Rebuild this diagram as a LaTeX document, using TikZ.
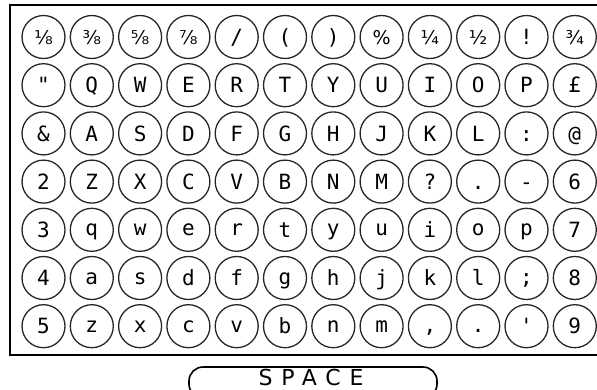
\documentclass[tikz,border=0pt]{standalone}
\usepackage{fontspec}
\newfontfamily\keyfont{DejaVu Sans Mono}
\newfontfamily\fracfont{DejaVu Sans}
\newfontfamily\barfont[LetterSpace=40]{DejaVu Sans}
\tikzset{
  keycap/.style={circle, draw=black!85, line width=1.3pt, minimum size=43pt, inner sep=0pt,
    font=\keyfont\fontsize{21}{21}\selectfont, text height=15.3pt, text depth=0pt},
  lowcap/.style={keycap, text height=12pt},
  fraccap/.style={keycap, font=\fracfont\fontsize{19}{19}\selectfont},
  frame/.style={draw=black, line width=2pt},
  spacebar/.style={draw=black, line width=1.6pt, rounded corners=14pt},
}
\newcommand\kp[4][keycap]{\node[#1] (k#2-#3) at ({43.5+48.3*(#3-1)},{-37-48.2*(#2-1)}) {#4};}
\begin{document}
\begin{tikzpicture}[x=1pt,y=1pt]
\useasboundingbox (0,0) rectangle (597,-389);
\clip (0,0) rectangle (597,-389);
\draw[frame] (10,-5) rectangle (610,-355);
% row 1
\kp[fraccap]{1}{1}{⅛}\kp[fraccap]{1}{2}{⅜}\kp[fraccap]{1}{3}{⅝}\kp[fraccap]{1}{4}{⅞}
\kp{1}{5}{/}\kp{1}{6}{(}\kp{1}{7}{)}\kp[fraccap]{1}{8}{\%}
\kp[fraccap]{1}{9}{¼}\kp[fraccap]{1}{10}{½}\kp{1}{11}{!}\kp[fraccap]{1}{12}{¾}
% row 2
\kp{2}{1}{\symbol{34}}\kp{2}{2}{Q}\kp{2}{3}{W}\kp{2}{4}{E}\kp{2}{5}{R}\kp{2}{6}{T}
\kp{2}{7}{Y}\kp{2}{8}{U}\kp{2}{9}{I}\kp{2}{10}{O}\kp{2}{11}{P}\kp{2}{12}{£}
% row 3
\kp{3}{1}{\&}\kp{3}{2}{A}\kp{3}{3}{S}\kp{3}{4}{D}\kp{3}{5}{F}\kp{3}{6}{G}
\kp{3}{7}{H}\kp{3}{8}{J}\kp{3}{9}{K}\kp{3}{10}{L}\kp{3}{11}{:}\kp{3}{12}{@}
% row 4
\kp{4}{1}{2}\kp{4}{2}{Z}\kp{4}{3}{X}\kp{4}{4}{C}\kp{4}{5}{V}\kp{4}{6}{B}
\kp{4}{7}{N}\kp{4}{8}{M}\kp{4}{9}{?}\kp{4}{10}{.}\kp{4}{11}{-}\kp{4}{12}{6}
% row 5
\kp{5}{1}{3}\kp[lowcap]{5}{2}{q}\kp[lowcap]{5}{3}{w}\kp[lowcap]{5}{4}{e}\kp[lowcap]{5}{5}{r}\kp{5}{6}{t}
\kp[lowcap]{5}{7}{y}\kp[lowcap]{5}{8}{u}\kp{5}{9}{i}\kp[lowcap]{5}{10}{o}\kp[lowcap]{5}{11}{p}\kp{5}{12}{7}
% row 6
\kp{6}{1}{4}\kp[lowcap]{6}{2}{a}\kp[lowcap]{6}{3}{s}\kp{6}{4}{d}\kp{6}{5}{f}\kp[lowcap]{6}{6}{g}
\kp{6}{7}{h}\kp{6}{8}{j}\kp{6}{9}{k}\kp{6}{10}{l}\kp[lowcap]{6}{11}{;}\kp{6}{12}{8}
% row 7
\kp{7}{1}{5}\kp[lowcap]{7}{2}{z}\kp[lowcap]{7}{3}{x}\kp[lowcap]{7}{4}{c}\kp[lowcap]{7}{5}{v}\kp{7}{6}{b}
\kp[lowcap]{7}{7}{n}\kp[lowcap]{7}{8}{m}\kp[lowcap]{7}{9}{,}\kp[lowcap]{7}{10}{.}\kp{7}{11}{\symbol{39}}\kp{7}{12}{9}
% space bar
\draw[spacebar] (189,-398) rectangle (437,-367);
\node[font=\barfont\fontsize{22}{22}\selectfont, anchor=base, inner sep=0pt] (space) at (311,-385) {SPACE};
\end{tikzpicture}
\end{document}
